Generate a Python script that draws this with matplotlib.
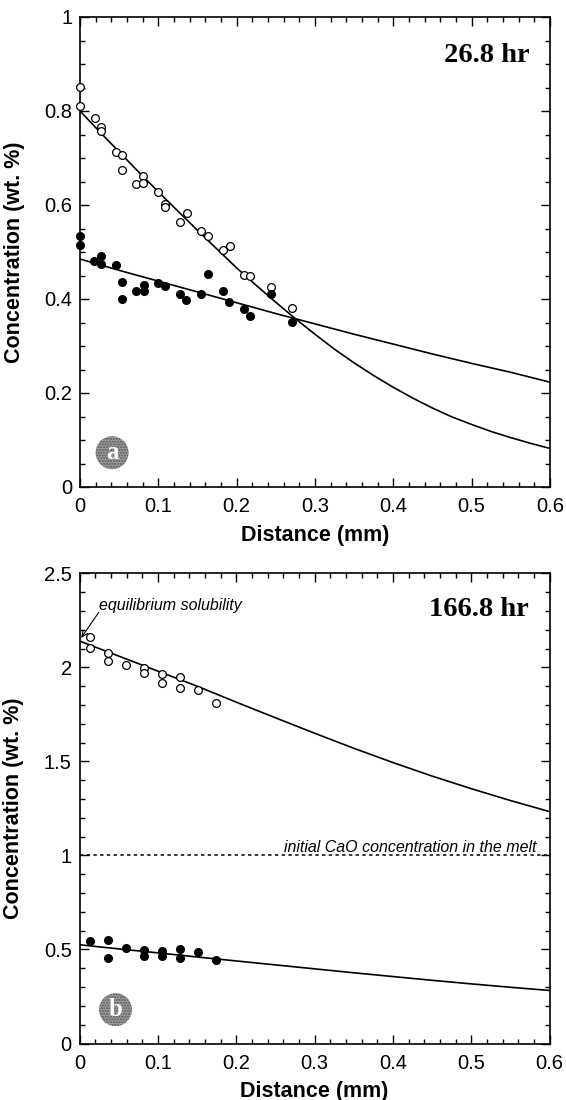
import matplotlib
matplotlib.use("Agg")
import matplotlib.pyplot as plt
from matplotlib.ticker import MultipleLocator, FuncFormatter

plt.rcParams['font.family'] = ['Liberation Sans', 'DejaVu Sans']

# ---------------- Panel (a): 26.8 hr ----------------
a_open_x = [0.000, 0.000, 0.019, 0.027, 0.027, 0.046, 0.054, 0.054, 0.072, 0.081,
            0.081, 0.100, 0.109, 0.109, 0.136, 0.128, 0.154, 0.163, 0.182, 0.191,
            0.209, 0.217, 0.244, 0.271]
a_open_y = [0.851, 0.811, 0.785, 0.766, 0.757, 0.712, 0.706, 0.675, 0.645, 0.662,
            0.647, 0.627, 0.603, 0.596, 0.584, 0.563, 0.544, 0.535, 0.504, 0.512,
            0.451, 0.450, 0.426, 0.380]
a_fill_x = [0.000, 0.000, 0.018, 0.027, 0.027, 0.046, 0.054, 0.054, 0.072, 0.082,
            0.082, 0.099, 0.109, 0.128, 0.135, 0.155, 0.163, 0.182, 0.190, 0.209,
            0.217, 0.244, 0.271]
a_fill_y = [0.534, 0.515, 0.481, 0.492, 0.474, 0.472, 0.436, 0.401, 0.418, 0.430,
            0.416, 0.433, 0.428, 0.411, 0.398, 0.411, 0.453, 0.417, 0.393, 0.379,
            0.364, 0.411, 0.352]
a_fit_open_x = [0.000, 0.025, 0.050, 0.075, 0.100, 0.125, 0.150, 0.175, 0.200,
                0.225, 0.250, 0.275, 0.300, 0.325, 0.350, 0.375, 0.400, 0.425,
                0.450, 0.475, 0.500, 0.525, 0.550, 0.575, 0.600]
a_fit_open = [0.800, 0.756, 0.713, 0.670, 0.628, 0.587, 0.546, 0.506, 0.466,
              0.429, 0.393, 0.358, 0.325, 0.293, 0.264, 0.237, 0.212, 0.189,
              0.168, 0.149, 0.133, 0.118, 0.105, 0.093, 0.082]
fit_x = [0.00, 0.05, 0.10, 0.15, 0.20, 0.25, 0.30, 0.35, 0.40, 0.45, 0.50, 0.55, 0.60]
a_fit_fill = [0.485, 0.461, 0.438, 0.415, 0.392, 0.369, 0.347, 0.325, 0.304, 0.283,
              0.263, 0.244, 0.223]

# ---------------- Panel (b): 166.8 hr ----------------
b_x = [0.0136, 0.0136, 0.037, 0.037, 0.059, 0.082, 0.082, 0.105, 0.105, 0.128,
       0.128, 0.151, 0.174]
b_open_y = [2.163, 2.101, 2.078, 2.036, 2.013, 1.995, 1.972, 1.963, 1.916, 1.946,
            1.892, 1.880, 1.809]
b_fill_x = [0.0136, 0.037, 0.037, 0.059, 0.082, 0.082, 0.105, 0.105, 0.128, 0.128,
            0.151, 0.174]
b_fill_y = [0.546, 0.548, 0.452, 0.507, 0.498, 0.463, 0.493, 0.467, 0.502, 0.454,
            0.484, 0.445]
b_fit_open = [2.140, 2.060, 1.980, 1.900, 1.815, 1.732, 1.650, 1.570, 1.494, 1.422,
              1.355, 1.292, 1.233]
b_fit_fill = [0.525, 0.503, 0.482, 0.460, 0.439, 0.418, 0.397, 0.376, 0.356, 0.336,
              0.317, 0.299, 0.282]
initial_conc = 1.0

xticks = [0, 0.1, 0.2, 0.3, 0.4, 0.5, 0.6]

fig = plt.figure(figsize=(5.66, 11.0), dpi=100)
ax1 = fig.add_axes([80/566, 1-487/1100, 470/566, 470/1100])
ax2 = fig.add_axes([79.5/566, 1-1043.5/1100, 470/566, 470.2/1100])

fmt = FuncFormatter(lambda v, p: '%g' % round(v, 3))

def style(ax, ymax, ymaj, ymin):
    ax.set_xlim(0, 0.6)
    ax.set_ylim(0, ymax)
    ax.set_xticks(xticks)
    ax.xaxis.set_minor_locator(MultipleLocator(0.02))
    ax.yaxis.set_major_locator(MultipleLocator(ymaj))
    ax.yaxis.set_minor_locator(MultipleLocator(ymin))
    ax.xaxis.set_major_formatter(fmt)
    ax.yaxis.set_major_formatter(fmt)
    ax.tick_params(which='both', direction='in', top=True, right=True,
                   labelsize=14.5, width=1.0, colors='black')
    ax.tick_params(which='major', length=6.5)
    ax.tick_params(which='minor', length=3.5)
    ax.tick_params(axis='x', which='major', pad=7.5)
    ax.tick_params(axis='y', which='major', pad=5.5)
    for s in ax.spines.values():
        s.set_linewidth(1.2)
    ax.set_xlabel('Distance (mm)', fontsize=15.5, fontweight='bold', labelpad=6)
    ax.set_ylabel('Concentration (wt. %)', fontsize=15.5, fontweight='bold')
    ax.yaxis.set_label_coords(-0.118, 0.5)

def badge(ax, x, y, letter):
    ax.scatter([x], [y], s=560, marker='o', facecolor='#9c9c9c', edgecolor='#555555',
               linewidths=0, hatch='......', zorder=5, clip_on=False)
    ax.text(x, y, letter, fontsize=18, fontweight='bold', color='white',
            family='Liberation Serif', ha='center', va='center', zorder=6)

# Panel a
style(ax1, 1.0, 0.2, 0.05)
ax1.plot(a_fit_open_x, a_fit_open, color='black', lw=1.2, zorder=2)
ax1.plot(fit_x, a_fit_fill, color='black', lw=1.2, zorder=2)
ax1.plot(a_open_x, a_open_y, 'o', ms=5.6, mfc='white', mec='black', mew=0.9,
         clip_on=False, zorder=3)
ax1.plot(a_fill_x, a_fill_y, 'o', ms=5.6, mfc='black', mec='black', mew=0.9,
         clip_on=False, zorder=4)
ax1.text(0.5745, 0.919, '26.8 hr', family='Liberation Serif', fontweight='bold',
         fontsize=20.5, ha='right', va='center')
badge(ax1, 0.041, 0.073, 'a')

# Panel b
style(ax2, 2.5, 0.5, 0.1)
ax2.plot(fit_x, b_fit_open, color='black', lw=1.2, zorder=2)
ax2.plot(fit_x, b_fit_fill, color='black', lw=1.2, zorder=2)
ax2.plot([0, 0.6], [initial_conc, initial_conc], color='black', lw=1.1,
         linestyle=(0, (2.2, 2.2)), zorder=2)
ax2.plot(b_x, b_open_y, 'o', ms=5.6, mfc='white', mec='black', mew=0.9,
         clip_on=False, zorder=3)
ax2.plot(b_fill_x, b_fill_y, 'o', ms=5.6, mfc='black', mec='black', mew=0.9,
         clip_on=False, zorder=4)
ax2.text(0.573, 2.305, '166.8 hr', family='Liberation Serif', fontweight='bold',
         fontsize=20.5, ha='right', va='center')
ax2.text(0.584, 1.018, 'initial CaO concentration in the melt', fontsize=11.5,
         style='italic', ha='right', va='baseline')
ax2.text(0.025, 2.33, 'equilibrium solubility', fontsize=11.5, style='italic',
         ha='left', va='center')
ax2.annotate('', xy=(0.002, 2.156), xytext=(0.0245, 2.292),
             arrowprops=dict(arrowstyle='->,head_length=0.45,head_width=0.2',
                             color='black', lw=0.8, shrinkA=0, shrinkB=0))
badge(ax2, 0.046, 0.18, 'b')

fig.savefig('out.png', dpi=100)
